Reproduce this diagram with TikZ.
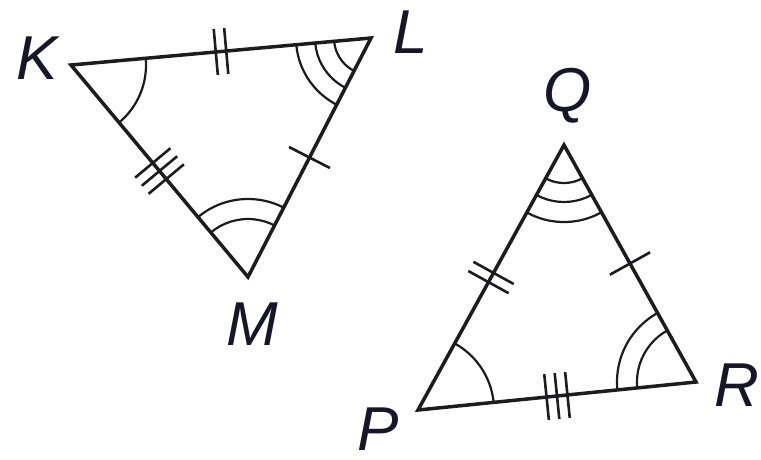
\documentclass[tikz,border=0pt]{standalone}
\usepackage{fontspec}
\setmainfont{Liberation Sans}
\usetikzlibrary{calc}
\definecolor{ink}{RGB}{28,28,30}
\definecolor{lbl}{RGB}{22,22,40}
\tikzset{
  side/.style={draw=ink,line width=3.5pt,line join=miter},
  anglearc/.style={draw=ink,line width=2.2pt},
  tickmark/.style={draw=ink,line width=2.6pt},
  vlabel/.style={inner sep=0pt,anchor=center,text=lbl,font=\fontsize{62}{62}\selectfont\itshape}
}
\newcommand\sideticks[3]{%
  \foreach \i in {1,...,#3}{%
    \pgfmathsetmacro\off{(\i-(#3+1)/2)*10.5}%
    \coordinate (tm) at ($(#1)!0.5!(#2)$);%
    \coordinate (tu) at ($(tm)!\off pt!(#2)$);%
    \draw[tickmark] ($(tu)!23pt!90:(#2)$) -- ($(tu)!23pt!-90:(#2)$);%
  }}
\newcommand\anglemarks[5]{% vertex, a, b, radii list
  \begin{scope}
    \clip (#1) -- (#2) -- (#3) -- cycle;
    \foreach \r in {#4}{\draw[anglearc] (#1) circle (\r pt);}
  \end{scope}}
\begin{document}
\begin{tikzpicture}[x=1pt,y=-1pt]
\useasboundingbox (0,0) rectangle (761,459);
% vertices
\coordinate (K) at (71,65);
\coordinate (L) at (371,38);
\coordinate (M) at (248,277);
\coordinate (Q) at (564,145);
\coordinate (P) at (418,410);
\coordinate (R) at (696,382);
% angle marks
\anglemarks{K}{L}{M}{75}{}
\anglemarks{L}{M}{K}{37,56,75}{}
\anglemarks{M}{K}{L}{58,78}{}
\anglemarks{P}{Q}{R}{76}{}
\anglemarks{Q}{R}{P}{38,57,77}{}
\anglemarks{R}{P}{Q}{59,79}{}
% triangles
\draw[side] (K) -- (L) -- (M) -- cycle;
\draw[side] (P) -- (Q) -- (R) -- cycle;
% tick marks
\sideticks{K}{L}{2}
\sideticks{L}{M}{1}
\sideticks{K}{M}{3}
\sideticks{P}{Q}{2}
\sideticks{Q}{R}{1}
\sideticks{P}{R}{3}
% labels
\node[vlabel] (lK) at (37,58) {K};
\node[vlabel] (lL) at (411,32) {L};
\node[vlabel] (lM) at (252,324) {M};
\node[vlabel] (lQ) at (568,96) {Q};
\node[vlabel] (lP) at (378,429) {P};
\node[vlabel] (lR) at (737,385) {R};
\end{tikzpicture}
\end{document}
